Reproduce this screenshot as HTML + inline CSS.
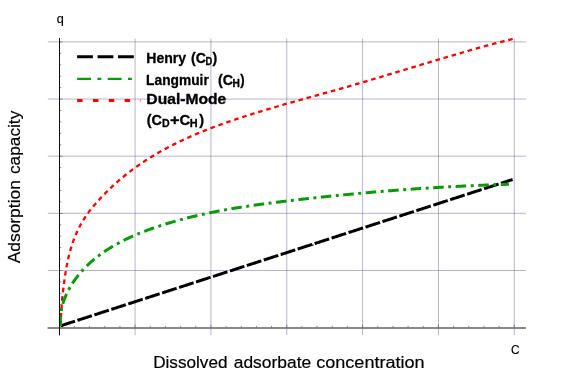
<!DOCTYPE html>
<html><head><meta charset="utf-8"><title>Adsorption isotherms</title>
<style>
html,body{margin:0;padding:0;background:#fff;}
svg{display:block;font-family:"Liberation Sans",sans-serif;font-kerning:none;will-change:transform;}
</style></head>
<body>
<svg width="564" height="379" viewBox="0 0 564 379">
<rect width="564" height="379" fill="#ffffff"/>
<g stroke="#5c5688" stroke-opacity="0.63" stroke-width="0.7" fill="none">
<line x1="135.08" y1="38.5" x2="135.08" y2="335" />
<line x1="210.92" y1="38.5" x2="210.92" y2="335" />
<line x1="286.76" y1="38.5" x2="286.76" y2="335" />
<line x1="362.60" y1="38.5" x2="362.60" y2="335" />
<line x1="438.44" y1="38.5" x2="438.44" y2="335" />
<line x1="514.28" y1="38.5" x2="514.28" y2="335" />
<line x1="47.8" y1="270.50" x2="526" y2="270.50" />
<line x1="47.8" y1="213.34" x2="526" y2="213.34" />
<line x1="47.8" y1="156.18" x2="526" y2="156.18" />
<line x1="47.8" y1="99.02" x2="526" y2="99.02" />
<line x1="47.8" y1="41.86" x2="526" y2="41.86" />
</g>
<g stroke="#555" stroke-width="0.65" fill="none">
<line x1="74.41" y1="327.64" x2="74.41" y2="325.84" />
<line x1="89.58" y1="327.64" x2="89.58" y2="325.84" />
<line x1="104.74" y1="327.64" x2="104.74" y2="325.84" />
<line x1="119.91" y1="327.64" x2="119.91" y2="325.84" />
<line x1="135.08" y1="327.64" x2="135.08" y2="324.64" />
<line x1="150.25" y1="327.64" x2="150.25" y2="325.84" />
<line x1="165.42" y1="327.64" x2="165.42" y2="325.84" />
<line x1="180.58" y1="327.64" x2="180.58" y2="325.84" />
<line x1="195.75" y1="327.64" x2="195.75" y2="325.84" />
<line x1="210.92" y1="327.64" x2="210.92" y2="324.64" />
<line x1="226.09" y1="327.64" x2="226.09" y2="325.84" />
<line x1="241.26" y1="327.64" x2="241.26" y2="325.84" />
<line x1="256.42" y1="327.64" x2="256.42" y2="325.84" />
<line x1="271.59" y1="327.64" x2="271.59" y2="325.84" />
<line x1="286.76" y1="327.64" x2="286.76" y2="324.64" />
<line x1="301.93" y1="327.64" x2="301.93" y2="325.84" />
<line x1="317.10" y1="327.64" x2="317.10" y2="325.84" />
<line x1="332.26" y1="327.64" x2="332.26" y2="325.84" />
<line x1="347.43" y1="327.64" x2="347.43" y2="325.84" />
<line x1="362.60" y1="327.64" x2="362.60" y2="324.64" />
<line x1="377.77" y1="327.64" x2="377.77" y2="325.84" />
<line x1="392.94" y1="327.64" x2="392.94" y2="325.84" />
<line x1="408.10" y1="327.64" x2="408.10" y2="325.84" />
<line x1="423.27" y1="327.64" x2="423.27" y2="325.84" />
<line x1="438.44" y1="327.64" x2="438.44" y2="324.64" />
<line x1="453.61" y1="327.64" x2="453.61" y2="325.84" />
<line x1="468.78" y1="327.64" x2="468.78" y2="325.84" />
<line x1="483.94" y1="327.64" x2="483.94" y2="325.84" />
<line x1="499.11" y1="327.64" x2="499.11" y2="325.84" />
<line x1="514.28" y1="327.64" x2="514.28" y2="324.64" />
<line x1="59.50" y1="316.21" x2="61.30" y2="316.21" />
<line x1="59.50" y1="304.78" x2="61.30" y2="304.78" />
<line x1="59.50" y1="293.36" x2="61.30" y2="293.36" />
<line x1="59.50" y1="281.93" x2="61.30" y2="281.93" />
<line x1="59.50" y1="270.50" x2="62.50" y2="270.50" />
<line x1="59.50" y1="259.07" x2="61.30" y2="259.07" />
<line x1="59.50" y1="247.64" x2="61.30" y2="247.64" />
<line x1="59.50" y1="236.22" x2="61.30" y2="236.22" />
<line x1="59.50" y1="224.79" x2="61.30" y2="224.79" />
<line x1="59.50" y1="213.36" x2="62.50" y2="213.36" />
<line x1="59.50" y1="201.93" x2="61.30" y2="201.93" />
<line x1="59.50" y1="190.50" x2="61.30" y2="190.50" />
<line x1="59.50" y1="179.08" x2="61.30" y2="179.08" />
<line x1="59.50" y1="167.65" x2="61.30" y2="167.65" />
<line x1="59.50" y1="156.22" x2="62.50" y2="156.22" />
<line x1="59.50" y1="144.79" x2="61.30" y2="144.79" />
<line x1="59.50" y1="133.36" x2="61.30" y2="133.36" />
<line x1="59.50" y1="121.94" x2="61.30" y2="121.94" />
<line x1="59.50" y1="110.51" x2="61.30" y2="110.51" />
<line x1="59.50" y1="99.08" x2="62.50" y2="99.08" />
<line x1="59.50" y1="87.65" x2="61.30" y2="87.65" />
<line x1="59.50" y1="76.22" x2="61.30" y2="76.22" />
<line x1="59.50" y1="64.80" x2="61.30" y2="64.80" />
<line x1="59.50" y1="53.37" x2="61.30" y2="53.37" />
<line x1="59.50" y1="41.94" x2="62.50" y2="41.94" />
</g>
<path d="M60.49,325.86 L60.61,325.82 L61.56,325.51 L62.52,325.20 L63.47,324.90 L64.42,324.59 L65.37,324.28 L66.32,323.97 L67.27,323.66 L68.22,323.36 L69.17,323.05 L70.12,322.74 L71.07,322.43 L72.03,322.12 L72.98,321.82 L73.93,321.51 L74.88,321.20 L74.95,321.18 M77.43,320.37 L77.49,320.35 L78.45,320.05 L79.40,319.74 L80.35,319.43 L81.30,319.12 L82.25,318.81 L83.20,318.51 L84.15,318.20 L85.10,317.89 L86.05,317.58 L87.00,317.28 L87.96,316.97 L88.91,316.66 L89.86,316.35 L90.81,316.04 L91.76,315.74 L91.90,315.69 M94.38,314.89 L94.61,314.81 L95.56,314.50 L96.52,314.20 L97.47,313.89 L98.42,313.58 L99.37,313.27 L100.32,312.97 L101.27,312.66 L102.22,312.35 L103.17,312.04 L104.12,311.73 L105.07,311.43 L106.03,311.12 L106.98,310.81 L107.93,310.50 L108.84,310.21 M111.32,309.40 L111.49,309.35 L112.45,309.04 L113.40,308.73 L114.35,308.42 L115.30,308.12 L116.25,307.81 L117.20,307.50 L118.15,307.19 L119.10,306.88 L120.05,306.58 L121.00,306.27 L121.96,305.96 L122.91,305.65 L123.86,305.35 L124.81,305.04 L125.76,304.73 L125.78,304.72 M128.27,303.92 L128.38,303.88 L129.33,303.57 L130.28,303.27 L131.23,302.96 L132.18,302.65 L133.13,302.34 L134.08,302.04 L135.03,301.73 L135.98,301.42 L136.94,301.11 L137.89,300.80 L138.84,300.50 L139.79,300.19 L140.74,299.88 L141.69,299.57 L142.64,299.26 L142.73,299.24 M145.21,298.43 L145.26,298.42 L146.21,298.11 L147.16,297.80 L148.11,297.49 L149.06,297.19 L150.01,296.88 L150.96,296.57 L151.91,296.26 L152.87,295.95 L153.82,295.65 L154.77,295.34 L155.72,295.03 L156.67,294.72 L157.62,294.42 L158.57,294.11 L159.52,293.80 L159.67,293.75 M162.16,292.95 L162.38,292.88 L163.33,292.57 L164.28,292.26 L165.23,291.95 L166.18,291.64 L167.13,291.34 L168.08,291.03 L169.03,290.72 L169.98,290.41 L170.94,290.11 L171.89,289.80 L172.84,289.49 L173.79,289.18 L174.74,288.87 L175.69,288.57 L176.62,288.27 M179.10,287.46 L179.26,287.41 L180.21,287.10 L181.16,286.80 L182.11,286.49 L183.06,286.18 L184.01,285.87 L184.96,285.56 L185.91,285.26 L186.87,284.95 L187.82,284.64 L188.77,284.33 L189.72,284.02 L190.67,283.72 L191.62,283.41 L192.57,283.10 L193.52,282.79 L193.56,282.78 M196.04,281.98 L196.14,281.95 L197.09,281.64 L198.04,281.33 L198.99,281.02 L199.94,280.71 L200.89,280.41 L201.84,280.10 L202.80,279.79 L203.75,279.48 L204.70,279.18 L205.65,278.87 L206.60,278.56 L207.55,278.25 L208.50,277.94 L209.45,277.64 L210.40,277.33 L210.51,277.30 M212.99,276.49 L213.02,276.48 L213.97,276.17 L214.92,275.87 L215.87,275.56 L216.82,275.25 L217.77,274.94 L218.73,274.63 L219.68,274.33 L220.63,274.02 L221.58,273.71 L222.53,273.40 L223.48,273.09 L224.43,272.79 L225.38,272.48 L226.33,272.17 L227.28,271.86 L227.45,271.81 M229.93,271.01 L230.14,270.94 L231.09,270.63 L232.04,270.32 L232.99,270.02 L233.94,269.71 L234.89,269.40 L235.84,269.09 L236.80,268.78 L237.75,268.48 L238.70,268.17 L239.65,267.86 L240.60,267.55 L241.55,267.25 L242.50,266.94 L243.45,266.63 L244.39,266.32 M246.88,265.52 L247.02,265.47 L247.97,265.17 L248.92,264.86 L249.87,264.55 L250.82,264.24 L251.77,263.94 L252.73,263.63 L253.68,263.32 L254.63,263.01 L255.58,262.70 L256.53,262.40 L257.48,262.09 L258.43,261.78 L259.38,261.47 L260.33,261.16 L261.28,260.86 L261.34,260.84 M263.82,260.04 L263.90,260.01 L264.85,259.70 L265.80,259.39 L266.75,259.09 L267.70,258.78 L268.66,258.47 L269.61,258.16 L270.56,257.85 L271.51,257.55 L272.46,257.24 L273.41,256.93 L274.36,256.62 L275.31,256.32 L276.26,256.01 L277.22,255.70 L278.17,255.39 L278.28,255.35 M280.77,254.55 L280.78,254.55 L281.73,254.24 L282.68,253.93 L283.63,253.62 L284.59,253.31 L285.54,253.01 L286.49,252.70 L287.44,252.39 L288.39,252.08 L289.34,251.77 L290.29,251.47 L291.24,251.16 L292.19,250.85 L293.15,250.54 L294.10,250.24 L295.05,249.93 L295.23,249.87 M297.71,249.07 L297.90,249.00 L298.85,248.70 L299.80,248.39 L300.75,248.08 L301.70,247.77 L302.66,247.46 L303.61,247.16 L304.56,246.85 L305.51,246.54 L306.46,246.23 L307.41,245.92 L308.36,245.62 L309.31,245.31 L310.26,245.00 L311.22,244.69 L312.17,244.39 L312.17,244.38 M314.65,243.58 L314.78,243.54 L315.73,243.23 L316.68,242.92 L317.63,242.62 L318.59,242.31 L319.54,242.00 L320.49,241.69 L321.44,241.38 L322.39,241.08 L323.34,240.77 L324.29,240.46 L325.24,240.15 L326.19,239.84 L327.15,239.54 L328.10,239.23 L329.05,238.92 L329.11,238.90 M331.60,238.09 L331.66,238.07 L332.61,237.77 L333.56,237.46 L334.52,237.15 L335.47,236.84 L336.42,236.53 L337.37,236.23 L338.32,235.92 L339.27,235.61 L340.22,235.30 L341.17,235.00 L342.12,234.69 L343.08,234.38 L344.03,234.07 L344.98,233.76 L345.93,233.46 L346.06,233.41 M348.54,232.61 L348.54,232.61 L349.49,232.30 L350.45,231.99 L351.40,231.69 L352.35,231.38 L353.30,231.07 L354.25,230.76 L355.20,230.45 L356.15,230.15 L357.10,229.84 L358.05,229.53 L359.01,229.22 L359.96,228.91 L360.91,228.61 L361.86,228.30 L362.81,227.99 L363.00,227.93 M365.49,227.12 L365.66,227.07 L366.61,226.76 L367.56,226.45 L368.52,226.14 L369.47,225.84 L370.42,225.53 L371.37,225.22 L372.32,224.91 L373.27,224.60 L374.22,224.30 L375.17,223.99 L376.12,223.68 L377.08,223.37 L378.03,223.06 L378.98,222.76 L379.93,222.45 L379.95,222.44 M382.43,221.64 L382.54,221.60 L383.49,221.29 L384.45,220.99 L385.40,220.68 L386.35,220.37 L387.30,220.06 L388.25,219.76 L389.20,219.45 L390.15,219.14 L391.10,218.83 L392.05,218.52 L393.01,218.22 L393.96,217.91 L394.91,217.60 L395.86,217.29 L396.81,216.98 L396.89,216.96 M399.38,216.15 L399.43,216.14 L400.38,215.83 L401.33,215.52 L402.28,215.21 L403.23,214.91 L404.18,214.60 L405.13,214.29 L406.08,213.98 L407.03,213.67 L407.98,213.37 L408.94,213.06 L409.89,212.75 L410.84,212.44 L411.79,212.14 L412.74,211.83 L413.69,211.52 L413.84,211.47 M416.32,210.67 L416.54,210.60 L417.49,210.29 L418.45,209.98 L419.40,209.67 L420.35,209.36 L421.30,209.06 L422.25,208.75 L423.20,208.44 L424.15,208.13 L425.10,207.82 L426.05,207.52 L427.01,207.21 L427.96,206.90 L428.91,206.59 L429.86,206.29 L430.78,205.99 M433.26,205.18 L433.43,205.13 L434.38,204.82 L435.33,204.52 L436.28,204.21 L437.23,203.90 L438.18,203.59 L439.13,203.28 L440.08,202.98 L441.03,202.67 L441.98,202.36 L442.94,202.05 L443.89,201.74 L444.84,201.44 L445.79,201.13 L446.74,200.82 L447.69,200.51 L447.72,200.50 M450.21,199.70 L450.31,199.67 L451.26,199.36 L452.21,199.05 L453.16,198.74 L454.11,198.43 L455.06,198.13 L456.01,197.82 L456.96,197.51 L457.91,197.20 L458.87,196.90 L459.82,196.59 L460.77,196.28 L461.72,195.97 L462.67,195.66 L463.62,195.36 L464.57,195.05 L464.67,195.02 M467.15,194.21 L467.19,194.20 L468.14,193.89 L469.09,193.59 L470.04,193.28 L470.99,192.97 L471.94,192.66 L472.89,192.35 L473.84,192.05 L474.80,191.74 L475.75,191.43 L476.70,191.12 L477.65,190.81 L478.60,190.51 L479.55,190.20 L480.50,189.89 L481.45,189.58 L481.61,189.53 M484.10,188.73 L484.31,188.66 L485.26,188.35 L486.21,188.04 L487.16,187.74 L488.11,187.43 L489.06,187.12 L490.01,186.81 L490.96,186.50 L491.91,186.20 L492.87,185.89 L493.82,185.58 L494.77,185.27 L495.72,184.96 L496.67,184.66 L497.62,184.35 L498.56,184.05 M501.04,183.24 L501.19,183.19 L502.14,182.89 L503.09,182.58 L504.04,182.27 L504.99,181.96 L505.94,181.66 L506.89,181.35 L507.84,181.04 L508.80,180.73 L509.75,180.42 L510.70,180.12 L511.65,179.81 L512.60,179.50" fill="none" stroke="#000" stroke-width="3.0"/>
<path d="M60.81,325.80 L60.81,325.76 L60.82,324.78 L60.83,323.80 L60.85,322.82 L60.87,321.84 L60.89,321.20 M61.01,317.41 L61.02,317.20 L61.06,316.22 L61.10,315.25 L61.14,314.27 L61.19,313.30 L61.22,312.81 M61.44,309.03 L61.45,308.91 L61.51,307.94 L61.58,306.96 L61.65,305.99 L61.72,305.02 L61.77,304.44 M62.08,300.66 L62.08,300.64 L62.17,299.66 L62.26,298.69 L62.35,297.72 L62.45,296.75 L62.52,296.08 M62.92,292.30 L62.94,292.13 L63.05,291.15 L63.16,290.18 L63.27,289.21 L63.39,288.23 L63.45,287.73 M63.92,283.97 L63.94,283.85 L64.07,282.88 L64.20,281.91 L64.33,280.93 L64.46,279.96 L64.54,279.41 M65.09,275.65 L65.10,275.57 L65.25,274.60 L65.40,273.63 L65.56,272.65 L65.72,271.68 L65.81,271.11 M66.46,267.37 L66.47,267.31 L66.65,266.35 L66.83,265.38 L67.02,264.41 L67.21,263.45 L67.33,262.86 M68.12,259.14 L68.12,259.12 L68.34,258.17 L68.56,257.21 L68.78,256.26 L69.02,255.31 L69.17,254.67 M70.14,251.00 L70.19,250.81 L70.45,249.87 L70.72,248.93 L71.00,248.00 L71.28,247.07 L71.43,246.58 M72.60,242.97 L72.62,242.90 L72.94,241.98 L73.27,241.07 L73.60,240.16 L73.94,239.25 L74.17,238.65 M75.58,235.13 L75.65,234.97 L76.03,234.08 L76.42,233.20 L76.81,232.32 L77.22,231.44 L77.45,230.92 M79.13,227.52 L79.23,227.31 L79.68,226.46 L80.13,225.60 L80.59,224.75 L81.06,223.91 L81.31,223.47 M83.24,220.20 L83.27,220.16 L83.78,219.34 L84.30,218.53 L84.82,217.72 L85.36,216.91 L85.74,216.34 M87.92,213.23 L87.99,213.14 L88.56,212.36 L89.14,211.58 L89.73,210.80 L90.32,210.03 L90.69,209.56 M93.07,206.60 L93.21,206.43 L93.83,205.68 L94.47,204.93 L95.10,204.19 L95.74,203.45 L96.04,203.10 M98.57,200.26 L98.66,200.16 L99.33,199.44 L99.99,198.72 L100.66,198.00 L101.33,197.28 L101.70,196.89 M104.33,194.16 L104.40,194.10 L105.09,193.40 L105.78,192.70 L106.48,192.00 L107.18,191.31 L107.58,190.91 M110.31,188.27 L110.36,188.23 L111.08,187.55 L111.80,186.88 L112.52,186.21 L113.24,185.54 L113.68,185.14 M116.50,182.60 L116.54,182.57 L117.28,181.92 L118.02,181.27 L118.77,180.63 L119.51,179.99 L119.98,179.59 M122.89,177.15 L122.91,177.14 L123.67,176.51 L124.43,175.89 L125.20,175.27 L125.97,174.66 L126.47,174.26 M129.46,171.93 L129.64,171.78 L130.42,171.19 L131.21,170.60 L131.99,170.01 L132.78,169.42 L133.13,169.16 M136.20,166.93 L136.34,166.83 L137.14,166.27 L137.94,165.71 L138.74,165.15 L139.54,164.59 L139.97,164.29 M143.12,162.17 L143.18,162.13 L143.99,161.59 L144.80,161.05 L145.62,160.52 L146.44,159.99 L146.97,159.65 M150.18,157.63 L150.35,157.52 L151.18,157.01 L152.01,156.50 L152.84,155.99 L153.67,155.49 L154.10,155.23 M157.37,153.30 L157.44,153.26 L158.28,152.77 L159.13,152.29 L159.97,151.81 L160.82,151.33 L161.37,151.02 M164.69,149.19 L164.86,149.10 L165.72,148.63 L166.58,148.17 L167.43,147.72 L168.29,147.26 L168.75,147.02 M172.12,145.28 L172.18,145.25 L173.05,144.81 L173.92,144.37 L174.79,143.93 L175.66,143.50 L176.23,143.21 M179.64,141.56 L179.81,141.47 L180.69,141.05 L181.57,140.64 L182.45,140.22 L183.33,139.81 L183.80,139.59 M187.25,138.01 L187.32,137.98 L188.21,137.58 L189.10,137.19 L189.99,136.79 L190.88,136.40 L191.46,136.14 M194.94,134.64 L195.13,134.56 L196.03,134.17 L196.93,133.79 L197.83,133.42 L198.73,133.04 L199.18,132.85 M202.69,131.42 L202.79,131.38 L203.70,131.01 L204.61,130.65 L205.52,130.29 L206.42,129.93 L206.97,129.71 M210.50,128.34 L210.52,128.33 L211.44,127.98 L212.35,127.64 L213.26,127.29 L214.18,126.94 L214.80,126.71 M218.36,125.39 L218.54,125.33 L219.46,124.99 L220.38,124.66 L221.30,124.33 L222.22,124.00 L222.69,123.83 M226.27,122.56 L226.37,122.53 L227.30,122.20 L228.22,121.88 L229.15,121.56 L230.07,121.24 L230.61,121.06 M234.21,119.84 L234.25,119.83 L235.18,119.51 L236.10,119.20 L237.03,118.89 L237.96,118.59 L238.57,118.38 M242.18,117.20 L242.39,117.14 L243.32,116.84 L244.25,116.53 L245.18,116.24 L246.12,115.94 L246.56,115.80 M250.18,114.65 L250.32,114.61 L251.25,114.31 L252.19,114.02 L253.12,113.73 L254.06,113.44 L254.57,113.28 M258.19,112.16 L258.27,112.14 L259.20,111.85 L260.14,111.57 L261.07,111.28 L262.01,111.00 L262.59,110.82 M266.23,109.73 L266.46,109.66 L267.40,109.38 L268.34,109.10 L269.27,108.82 L270.21,108.55 L270.64,108.42 M274.28,107.35 L274.43,107.30 L275.37,107.03 L276.31,106.76 L277.25,106.48 L278.18,106.21 L278.70,106.06 M282.34,105.01 L282.41,104.99 L283.35,104.72 L284.29,104.45 L285.23,104.18 L286.17,103.91 L286.76,103.74 M290.41,102.70 L290.63,102.64 L291.57,102.37 L292.51,102.11 L293.45,101.84 L294.39,101.57 L294.84,101.45 M298.49,100.42 L298.62,100.38 L299.56,100.12 L300.50,99.86 L301.44,99.59 L302.38,99.33 L302.92,99.18 M306.58,98.16 L306.61,98.15 L307.55,97.88 L308.49,97.62 L309.44,97.36 L310.38,97.10 L311.01,96.92 M314.66,95.90 L314.84,95.85 L315.79,95.59 L316.73,95.33 L317.67,95.07 L318.61,94.81 L319.09,94.67 M322.75,93.65 L322.84,93.63 L323.78,93.36 L324.72,93.10 L325.66,92.84 L326.60,92.58 L327.18,92.42 M330.84,91.40 L331.07,91.33 L332.01,91.07 L332.95,90.80 L333.89,90.54 L334.83,90.28 L335.27,90.15 M338.92,89.13 L339.06,89.09 L340.00,88.82 L340.94,88.55 L341.88,88.29 L342.82,88.02 L343.34,87.87 M346.99,86.83 L347.05,86.82 L347.99,86.55 L348.93,86.28 L349.86,86.01 L350.80,85.74 L351.42,85.57 M355.06,84.51 L355.26,84.46 L356.20,84.19 L357.14,83.91 L358.08,83.64 L359.01,83.37 L359.48,83.23 M363.12,82.17 L363.23,82.13 L364.17,81.86 L365.11,81.58 L366.05,81.31 L366.98,81.03 L367.54,80.87 M371.18,79.79 L371.20,79.78 L372.14,79.51 L373.08,79.23 L374.01,78.95 L374.95,78.67 L375.58,78.48 M379.22,77.40 L379.40,77.34 L380.34,77.06 L381.27,76.78 L382.21,76.50 L383.15,76.22 L383.63,76.08 M387.26,74.99 L387.36,74.96 L388.30,74.68 L389.23,74.40 L390.17,74.11 L391.11,73.83 L391.67,73.66 M395.30,72.57 L395.32,72.56 L396.26,72.28 L397.19,72.00 L398.13,71.71 L399.06,71.43 L399.71,71.24 M403.34,70.14 L403.51,70.09 L404.45,69.81 L405.38,69.52 L406.32,69.24 L407.25,68.96 L407.74,68.81 M411.37,67.71 L411.47,67.68 L412.40,67.40 L413.34,67.12 L414.28,66.83 L415.21,66.55 L415.78,66.38 M419.41,65.28 L419.43,65.28 L420.36,65.00 L421.30,64.71 L422.24,64.43 L423.17,64.15 L423.81,63.96 M427.45,62.86 L427.62,62.81 L428.56,62.53 L429.49,62.25 L430.43,61.97 L431.37,61.69 L431.86,61.54 M435.49,60.46 L435.58,60.43 L436.52,60.15 L437.46,59.87 L438.40,59.59 L439.33,59.31 L439.90,59.14 M443.54,58.06 L443.55,58.06 L444.49,57.78 L445.43,57.50 L446.37,57.23 L447.30,56.95 L447.95,56.76 M451.59,55.69 L451.76,55.64 L452.70,55.37 L453.64,55.09 L454.58,54.82 L455.52,54.54 L456.01,54.40 M459.65,53.34 L459.74,53.32 L460.68,53.05 L461.62,52.78 L462.56,52.51 L463.50,52.24 L464.07,52.07 M467.72,51.03 L467.73,51.02 L468.67,50.76 L469.61,50.49 L470.55,50.22 L471.49,49.96 L472.15,49.77 M475.80,48.74 L475.96,48.70 L476.90,48.44 L477.84,48.17 L478.79,47.91 L479.73,47.65 L480.23,47.51 M483.89,46.50 L483.97,46.48 L484.91,46.22 L485.85,45.96 L486.80,45.70 L487.74,45.45 L488.33,45.29 M491.99,44.30 L492.22,44.24 L493.16,43.98 L494.11,43.73 L495.05,43.48 L496.00,43.23 L496.43,43.11 M500.10,42.15 L500.25,42.11 L501.20,41.86 L502.14,41.62 L503.09,41.37 L504.03,41.12 L504.56,40.99 M508.23,40.05 L508.29,40.03 L509.24,39.79 L510.19,39.55 L511.13,39.31 L512.08,39.07 L512.69,38.92" fill="none" stroke="#ff0000" stroke-width="2.3"/>
<path d="M60.65,326.12 L60.64,326.05 L60.56,325.19 L60.50,324.33 L60.45,323.47 L60.41,322.61 L60.39,321.76 L60.38,320.90 L60.38,320.05 L60.40,319.20 L60.43,318.35 L60.47,317.50 L60.52,316.66 L60.59,315.82 L60.61,315.58 M61.19,311.09 L61.20,311.02 L61.35,310.19 L61.50,309.37 L61.67,308.55 L61.75,308.20 M62.86,303.82 L62.90,303.67 L63.15,302.87 L63.40,302.07 L63.66,301.27 L63.93,300.48 L64.21,299.69 L64.50,298.90 L64.80,298.12 L65.11,297.34 L65.43,296.56 L65.76,295.79 L66.09,295.02 L66.44,294.25 L66.58,293.95 M68.59,289.90 L68.68,289.72 L69.08,288.98 L69.49,288.24 L69.91,287.51 L70.02,287.32 M72.38,283.46 L72.44,283.37 L72.90,282.66 L73.37,281.96 L73.85,281.26 L74.33,280.57 L74.82,279.88 L75.31,279.20 L75.81,278.52 L76.31,277.84 L76.82,277.17 L77.34,276.50 L77.86,275.84 L78.38,275.18 L78.58,274.94 M81.52,271.48 L81.63,271.35 L82.19,270.72 L82.76,270.11 L83.32,269.49 L83.50,269.30 M86.66,266.06 L86.78,265.94 L87.50,265.24 L88.22,264.55 L88.95,263.86 L89.68,263.19 L90.42,262.51 L91.17,261.85 L91.92,261.19 L92.67,260.54 L93.44,259.89 L94.20,259.25 L94.49,259.01 M98.04,256.19 L98.15,256.11 L98.81,255.60 L99.48,255.10 L100.15,254.61 L100.40,254.42 M104.09,251.81 L104.25,251.71 L104.94,251.24 L105.64,250.77 L106.34,250.31 L107.04,249.85 L107.74,249.40 L108.45,248.95 L109.16,248.50 L109.88,248.06 L110.59,247.62 L111.31,247.18 L112.04,246.75 L112.76,246.32 L113.01,246.17 M116.94,243.93 L116.98,243.92 L117.72,243.51 L118.46,243.11 L119.21,242.71 L119.54,242.53 M123.56,240.46 L123.73,240.38 L124.49,240.00 L125.26,239.62 L126.02,239.25 L126.79,238.88 L127.56,238.52 L128.33,238.16 L129.10,237.80 L129.87,237.44 L130.65,237.09 L131.43,236.73 L132.21,236.39 L132.99,236.04 L133.11,235.99 M137.27,234.21 L137.31,234.19 L138.10,233.86 L138.89,233.54 L139.68,233.22 L140.00,233.09 M144.21,231.43 L144.26,231.41 L145.06,231.11 L145.86,230.80 L146.66,230.50 L147.46,230.20 L148.27,229.91 L149.07,229.61 L149.88,229.32 L150.68,229.03 L151.49,228.74 L152.30,228.46 L153.10,228.18 L153.91,227.89 L154.12,227.82 M158.41,226.37 L158.56,226.32 L159.38,226.05 L160.19,225.79 L161.00,225.52 L161.22,225.45 M165.53,224.09 L165.66,224.04 L166.48,223.79 L167.29,223.54 L168.10,223.30 L168.91,223.05 L169.73,222.81 L170.54,222.56 L171.35,222.32 L172.17,222.09 L172.98,221.85 L173.80,221.61 L174.61,221.38 L175.42,221.15 L175.64,221.09 M180.01,219.88 L180.11,219.85 L180.93,219.63 L181.74,219.41 L182.56,219.19 L182.85,219.11 M187.23,217.98 L187.25,217.97 L188.07,217.77 L188.89,217.56 L189.70,217.36 L190.52,217.15 L191.34,216.95 L192.16,216.75 L192.98,216.56 L193.79,216.36 L194.61,216.17 L195.43,215.97 L196.25,215.78 L197.07,215.59 L197.48,215.49 M201.90,214.49 L201.99,214.47 L202.81,214.29 L203.63,214.11 L204.45,213.94 L204.78,213.86 M209.21,212.93 L209.37,212.89 L210.20,212.72 L211.02,212.56 L211.84,212.39 L212.66,212.22 L213.48,212.06 L214.31,211.90 L215.13,211.73 L215.95,211.57 L216.78,211.41 L217.60,211.25 L218.42,211.10 L219.25,210.94 L219.56,210.88 M224.01,210.06 L224.19,210.03 L225.01,209.88 L225.84,209.73 L226.66,209.58 L226.91,209.54 M231.37,208.77 L231.41,208.76 L232.24,208.62 L233.06,208.48 L233.89,208.34 L234.71,208.20 L235.54,208.07 L236.37,207.93 L237.19,207.80 L238.02,207.67 L238.85,207.53 L239.67,207.40 L240.50,207.27 L241.33,207.14 L241.78,207.07 M246.26,206.38 L246.30,206.38 L247.13,206.25 L247.95,206.13 L248.78,206.01 L249.18,205.95 M253.65,205.30 L253.76,205.28 L254.59,205.17 L255.42,205.05 L256.25,204.93 L257.08,204.82 L257.91,204.70 L258.74,204.59 L259.57,204.47 L260.40,204.36 L261.23,204.25 L262.06,204.13 L262.89,204.02 L263.72,203.91 L264.10,203.86 M268.59,203.27 L268.71,203.25 L269.54,203.15 L270.37,203.04 L271.21,202.93 L271.52,202.89 M276.00,202.33 L276.20,202.30 L277.04,202.20 L277.87,202.09 L278.70,201.99 L279.54,201.89 L280.37,201.79 L281.20,201.68 L282.04,201.58 L282.87,201.48 L283.70,201.38 L284.54,201.28 L285.37,201.18 L286.21,201.08 L286.47,201.05 M290.97,200.51 L291.01,200.51 L291.84,200.41 L292.68,200.31 L293.51,200.21 L293.90,200.17 M298.39,199.65 L298.53,199.63 L299.36,199.54 L300.20,199.44 L301.03,199.34 L301.87,199.25 L302.71,199.15 L303.54,199.06 L304.38,198.97 L305.22,198.87 L306.05,198.78 L306.89,198.68 L307.73,198.59 L308.56,198.50 L308.87,198.46 M313.38,197.97 L313.38,197.97 L314.22,197.87 L315.05,197.78 L315.89,197.69 L316.31,197.65 M320.80,197.17 L320.92,197.15 L321.76,197.06 L322.60,196.98 L323.44,196.89 L324.28,196.80 L325.11,196.71 L325.95,196.62 L326.79,196.54 L327.63,196.45 L328.47,196.36 L329.31,196.28 L330.15,196.19 L330.99,196.10 L331.30,196.07 M335.80,195.61 L335.81,195.61 L336.65,195.53 L337.49,195.45 L338.33,195.36 L338.74,195.32 M343.24,194.88 L343.37,194.87 L344.21,194.78 L345.06,194.70 L345.90,194.62 L346.74,194.54 L347.58,194.46 L348.42,194.38 L349.26,194.30 L350.10,194.22 L350.94,194.14 L351.78,194.06 L352.62,193.98 L353.46,193.90 L353.74,193.88 M358.25,193.46 L358.30,193.45 L359.14,193.38 L359.98,193.30 L360.82,193.22 L361.19,193.19 M365.69,192.79 L365.87,192.77 L366.71,192.70 L367.55,192.62 L368.40,192.55 L369.24,192.48 L370.08,192.40 L370.92,192.33 L371.76,192.26 L372.61,192.18 L373.45,192.11 L374.29,192.04 L375.13,191.97 L375.97,191.90 L376.20,191.88 M380.72,191.50 L380.82,191.49 L381.66,191.42 L382.50,191.35 L383.34,191.29 L383.66,191.26 M388.16,190.90 L388.19,190.89 L389.03,190.83 L389.87,190.76 L390.71,190.69 L391.56,190.63 L392.40,190.56 L393.24,190.50 L394.08,190.43 L394.93,190.37 L395.77,190.30 L396.61,190.24 L397.45,190.17 L398.30,190.11 L398.68,190.08 M403.20,189.74 L403.35,189.73 L404.19,189.67 L405.04,189.61 L405.88,189.55 L406.14,189.53 M410.65,189.21 L410.72,189.20 L411.57,189.14 L412.41,189.08 L413.25,189.03 L414.09,188.97 L414.94,188.91 L415.78,188.85 L416.62,188.79 L417.47,188.74 L418.31,188.68 L419.15,188.62 L419.99,188.57 L420.84,188.51 L421.17,188.49 M425.69,188.19 L425.89,188.18 L426.73,188.13 L427.58,188.07 L428.42,188.02 L428.64,188.01 M433.15,187.72 L433.26,187.72 L434.10,187.67 L434.95,187.62 L435.79,187.56 L436.63,187.51 L437.47,187.46 L438.32,187.41 L439.16,187.36 L440.00,187.32 L440.84,187.27 L441.68,187.22 L442.53,187.17 L443.37,187.12 L443.68,187.10 M448.20,186.85 L448.21,186.85 L449.05,186.80 L449.89,186.76 L450.74,186.71 L451.15,186.69 M455.66,186.45 L455.78,186.45 L456.63,186.40 L457.47,186.36 L458.31,186.32 L459.15,186.27 L459.99,186.23 L460.83,186.19 L461.67,186.15 L462.52,186.11 L463.36,186.07 L464.20,186.03 L465.04,185.98 L465.88,185.94 L466.20,185.93 M470.73,185.72 L470.92,185.71 L471.76,185.67 L472.61,185.64 L473.45,185.60 L473.67,185.59 M478.19,185.39 L478.28,185.39 L479.12,185.35 L479.96,185.32 L480.80,185.28 L481.64,185.25 L482.48,185.22 L483.32,185.18 L484.16,185.15 L485.00,185.12 L485.84,185.08 L486.68,185.05 L487.51,185.02 L488.35,184.99 L488.73,184.97 M493.26,184.81 L493.39,184.80 L494.23,184.77 L495.07,184.74 L495.90,184.71 L496.20,184.70 M500.72,184.55 L500.73,184.55 L501.56,184.53 L502.40,184.50 L503.24,184.47 L504.08,184.45 L504.91,184.42 L505.75,184.40 L506.59,184.37 L507.43,184.35 L508.27,184.32 L508.89,184.30" fill="none" stroke="#089a08" stroke-width="3.0"/>
<line x1="47.6" y1="327.89" x2="526" y2="327.89" stroke="#626262" stroke-width="1.5"/>
<line x1="59.5" y1="38" x2="59.5" y2="335.3" stroke="#111" stroke-width="1.0"/>
<!-- legend -->
<line x1="77.1" y1="56.7" x2="133.8" y2="56.7" stroke="#000" stroke-width="2.9" stroke-dasharray="15.8 4.65"/>
<line x1="77.1" y1="78.9" x2="133.8" y2="78.9" stroke="#089a08" stroke-width="2.2" stroke-dasharray="13.9 6.4 3.9 6.4"/>
<line x1="77.1" y1="100.6" x2="133.8" y2="100.6" stroke="#ff0000" stroke-width="3.0" stroke-dasharray="5.5 10.34"/>
<line x1="140.3" y1="99.3" x2="140.3" y2="101.9" stroke="#ff0000" stroke-width="0.7" stroke-opacity="0.7"/>
<g fill="#000" stroke="#000" stroke-width="0.3" stroke-linejoin="round">
<text transform="translate(146.26,62.90) scale(1.0033,1)" font-size="14" font-weight="bold">Henry</text>
<text transform="translate(191.10,62.90) scale(1.0079,1)" font-size="14" font-weight="bold">(C</text>
<text transform="translate(205.48,65.30) scale(0.9202,1)" font-size="10.1" font-weight="bold">D</text>
<text transform="translate(212.59,62.90) scale(1.0124,1)" font-size="14" font-weight="bold">)</text>
<text transform="translate(146.08,84.60) scale(0.9835,1)" font-size="14" font-weight="bold">Langmuir</text>
<text transform="translate(217.99,84.60) scale(1.0152,1)" font-size="14" font-weight="bold">(C</text>
<text transform="translate(232.52,87.10) scale(1.0105,1)" font-size="10.1" font-weight="bold">H</text>
<text transform="translate(240.19,84.60) scale(0.9364,1)" font-size="14" font-weight="bold">)</text>
<text transform="translate(146.35,104.30) scale(1.1178,1)" font-size="14" font-weight="bold">Dual-Mode</text>
<text transform="translate(146.68,125.10) scale(1.0298,1)" font-size="14" font-weight="bold">(C</text>
<text transform="translate(161.89,127.00) scale(1.0494,1)" font-size="10.1" font-weight="bold">D</text>
<text transform="translate(170.11,125.10) scale(1.1680,1)" font-size="14" font-weight="bold">+</text>
<text transform="translate(179.39,125.10) scale(1.0597,1)" font-size="14" font-weight="bold">C</text>
<text transform="translate(189.77,127.00) scale(1.0779,1)" font-size="10.1" font-weight="bold">H</text>
<text transform="translate(199.29,125.10) scale(1.0377,1)" font-size="14" font-weight="bold">)</text>
</g>
<g fill="#000" stroke="#000" stroke-width="0.18">
<text transform="translate(56.87,23.40) scale(1.0211,1)" font-size="12.4">q</text>
<text transform="translate(510.90,353.60) scale(0.9787,1)" font-size="12.1">C</text>
<text transform="translate(153.19,368.10) scale(1.0989,1)" font-size="15.6">Dissolved</text>
<text transform="translate(233.76,368.10) scale(1.1172,1)" font-size="15.6">adsorbate</text>
<text transform="translate(316.23,368.10) scale(1.1578,1)" font-size="15.6">concentration</text>
<text transform="translate(19.70,263.33) rotate(-90) scale(1.1165,1)" font-size="15.6">Adsorption</text>
<text transform="translate(19.70,174.03) rotate(-90) scale(1.1073,1)" font-size="15.6">capacity</text>
</g>
</svg>
</body></html>
